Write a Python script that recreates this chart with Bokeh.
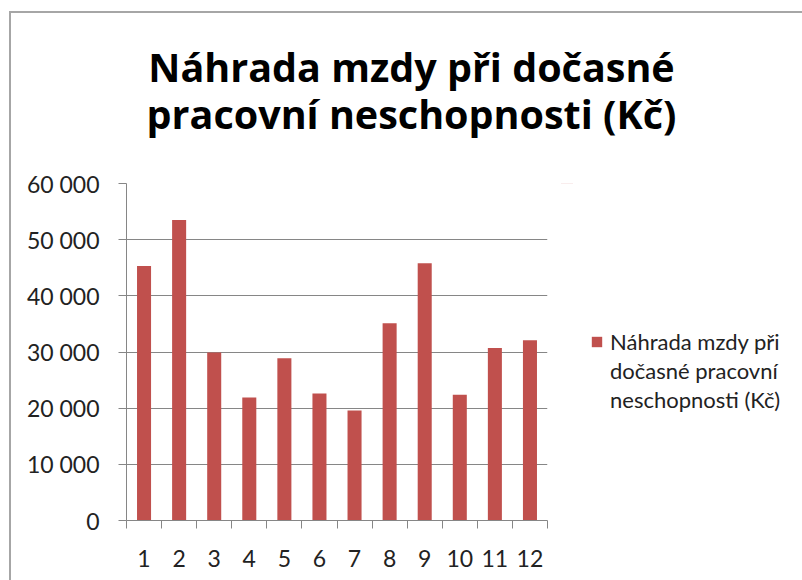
from bokeh.plotting import figure
from bokeh.models import FixedTicker, Label, Legend, LegendItem, Range1d
from bokeh.layouts import column, row
from bokeh.embed import file_html
from bokeh.resources import INLINE

categories = [str(i) for i in range(1, 13)]
values = [45300, 53500, 29900, 21900, 28900, 22600, 19600, 35100, 45800, 22400, 30700, 32100]
y_ticks = [0, 10000, 20000, 30000, 40000, 50000, 60000]
y_tick_labels = ["0", "10 000", "20 000", "30 000", "40 000", "50 000", "60 000"]
title_lines = ["Náhrada mzdy při dočasné", "pracovní neschopnosti (Kč)"]
legend_lines = ["Náhrada mzdy při", "dočasné pracovní", "neschopnosti (Kč)"]

FONT = "Lato"
TITLE_FONT = "Open Sans"
BAR = "#C0504D"
GRID = "#868686"
BORDER = "#A6A6A6"

xs = list(range(1, len(categories) + 1))


def bare(w, h, y_range=None):
    f = figure(width=w, height=h, output_backend="svg", toolbar_location=None,
               x_axis_type=None, y_axis_type=None,
               x_range=Range1d(0, w), y_range=y_range or Range1d(h, 0),
               min_border=0)
    f.grid.grid_line_color = None
    f.outline_line_color = None
    f.background_fill_color = None
    f.border_fill_color = None
    return f


# ---- title area ----
tfig = bare(802, 160)
for t, yb in zip(title_lines, [66, 113]):
    tfig.add_layout(Label(x=411, y=yb, text=t, text_align="center", text_baseline="alphabetic",
                          text_font=TITLE_FONT, text_font_style="bold",
                          text_font_size="39.5px", text_color="black"))

# ---- chart ----
p = figure(width=560, height=420, output_backend="svg", toolbar_location=None,
           x_range=Range1d(0.5, 12.5), y_range=Range1d(0, 60000),
           min_border_left=126, min_border_right=13, min_border_top=23, min_border_bottom=60)
p.outline_line_color = None
p.background_fill_color = None
p.border_fill_color = None

r = p.vbar(x=xs, top=values, width=0.4, fill_color=BAR, line_color=None)

p.xaxis.ticker = FixedTicker(ticks=xs, minor_ticks=[x - 0.5 for x in xs] + [12.5])
p.xaxis.major_label_overrides = {x: c for x, c in zip(xs, categories)}
p.xaxis.major_tick_line_color = None
p.xaxis.minor_tick_line_color = GRID
p.xaxis.minor_tick_out = 8
p.xaxis.minor_tick_in = 0
p.xaxis.axis_line_color = GRID
p.xaxis.major_label_text_font = FONT
p.xaxis.major_label_text_font_size = "23px"
p.xaxis.major_label_text_color = "#222222"
p.xaxis.major_label_standoff = 21

p.yaxis.ticker = FixedTicker(ticks=y_ticks, minor_ticks=[])
p.yaxis.major_label_overrides = {t: l for t, l in zip(y_ticks, y_tick_labels)}
p.yaxis.major_tick_line_color = GRID
p.yaxis.major_tick_out = 8
p.yaxis.major_tick_in = 0
p.yaxis.axis_line_color = GRID
p.yaxis.major_label_text_font = FONT
p.yaxis.major_label_text_font_size = "23px"
p.yaxis.major_label_text_color = "#222222"
p.yaxis.major_label_standoff = 19

p.xgrid.grid_line_color = None
p.ygrid.grid_line_color = GRID
p.ygrid.grid_line_width = 1.2

# ---- legend area (its bars lie outside its view; only the legend swatch shows) ----
lfig = bare(242, 420, y_range=Range1d(-2, -1))
swatch = lfig.vbar(x=xs, top=values, width=0.4, fill_color=BAR, line_color=None)
blank = lfig.vbar(x=[], top=[], width=0.4, fill_alpha=0, line_alpha=0)
items = [LegendItem(label=legend_lines[0], renderers=[swatch])] + \
        [LegendItem(label=s, renderers=[blank]) for s in legend_lines[1:]]
legend = Legend(items=items, location=(30, 106), label_text_font=FONT,
                label_text_font_size="22px", label_text_color="#222222",
                glyph_width=13, glyph_height=13, label_height=29, spacing=0,
                padding=0, margin=0, label_standoff=7,
                border_line_color=None, background_fill_alpha=0)
lfig.add_layout(legend)

bg = ("linear-gradient({c},{c}) 9px 11px / 2px calc(100% - 11px) no-repeat, "
      "linear-gradient({c},{c}) 9px 11px / calc(100% - 9px) 2px no-repeat").format(c=BORDER)
layout = column(tfig, row(p, lfig, spacing=0), spacing=0,
                styles={"background": bg})

open("out.html", "w").write(file_html(layout, INLINE))
